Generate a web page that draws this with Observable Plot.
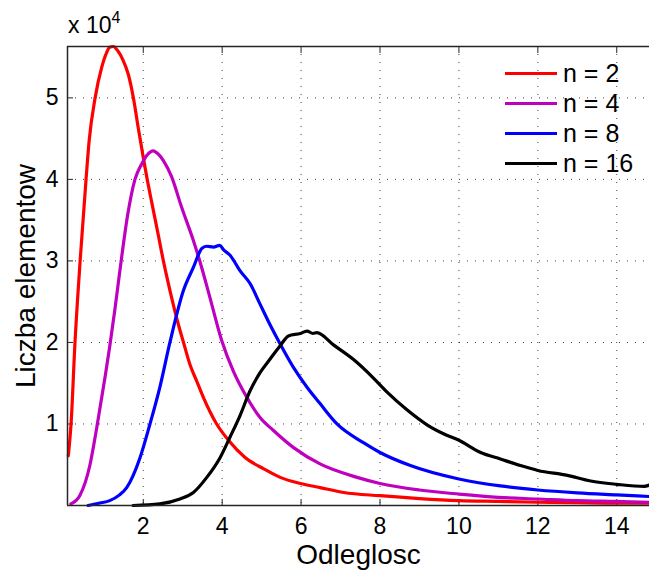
<!DOCTYPE html>
<html><head><meta charset="utf-8">
<script src="https://cdn.jsdelivr.net/npm/d3@7"></script>
<script src="https://cdn.jsdelivr.net/npm/@observablehq/plot@0.6"></script>
<style>
body{margin:0;background:#fff;}
#wrap{position:relative;width:649px;height:571px;font-family:"Liberation Sans",Arial,Helvetica,sans-serif;color:#000;overflow:hidden;}
#expo{position:absolute;left:68px;top:14px;font-size:23px;line-height:1;white-space:nowrap;}
#expo sup{font-size:16px;position:relative;top:-4px;vertical-align:top;}
#legend{position:absolute;left:505px;top:58px;}
.row{display:flex;align-items:center;height:30px;}
.sw{width:52px;height:3px;margin-right:6px;}
.lt{font-size:25px;line-height:1;white-space:nowrap;}
svg [aria-label="y-axis label"] text, svg [aria-label="x-axis label"] text{font-size:28px;}
</style>
</head><body>
<div id="wrap"><div id="chart"></div><div id="expo">x 10<sup>4</sup></div><div id="legend"></div></div>
<script>
const seriesNames = ["n = 2", "n = 4", "n = 8", "n = 16"];
const seriesColors = ["#ff0000", "#bf00bf", "#0000ff", "#000000"];

const distN2  = [0.1,0.17,0.27,0.40,0.55,0.63,0.78,0.95,1.05,1.15,1.24,1.35,1.49,1.62,1.75,1.87,2.0,2.1,2.21,2.38,2.51,2.68,2.89,3.02,3.19,3.36,3.52,3.86,4.16,4.58,5.05,5.47,5.98,6.48,7.08,8.0,9.0,10,11,12,13,14,14.83];
const countN2 = [6100,10000,20000,30000,40000,44800,50000,53800,55300,56200,56300,55800,54600,52900,50000,46400,42700,40000,37300,33200,30000,26300,22200,20000,17200,15200,13300,10000,8000,5900,4500,3450,2700,2200,1600,1200,850,600,500,400,350,300,300];

const distN4  = [0.165,0.39,0.65,0.82,1.04,1.15,1.28,1.44,1.6,1.79,1.96,2.1,2.25,2.4,2.51,2.72,2.97,3.27,3.48,3.69,3.99,4.28,4.62,4.96,5.3,5.81,6.48,7.42,8.0,9.0,10,11,12,13,14,14.83];
const countN4 = [200,1200,5000,9500,16000,19500,24000,30000,35500,40000,41900,43000,43500,43000,42300,40300,36600,32500,29200,25500,20200,16500,13300,10800,9200,7100,5100,3450,2700,1900,1400,1000,800,600,500,400];

const distN8  = [0.6,0.9,1.15,1.4,1.58,1.92,2.17,2.42,2.68,3.02,3.27,3.48,3.6,3.78,3.93,4.05,4.2,4.45,4.71,4.96,5.22,5.47,5.81,6.15,6.48,6.91,7.58,8.0,8.77,10,11.05,12,13,14,14.83];
const countN8 = [0,300,600,1300,2200,5900,10000,14500,20100,26400,29200,31500,31800,31700,31900,31300,30700,28800,27200,24700,22100,19800,16900,14500,12500,10000,7700,6500,4900,3250,2400,1900,1550,1300,1100];

const distN16  = [1.74,2.42,2.93,3.27,3.61,3.95,4.2,4.45,4.71,4.96,5.22,5.47,5.68,5.98,6.15,6.3,6.4,6.82,7.33,7.84,8.18,8.69,9.19,9.61,10,10.55,11.05,11.56,12,12.75,13.34,14,14.7,14.83];
const countN16 = [0,200,800,1600,3450,5900,8400,11000,14100,16300,18000,19600,20800,21100,21400,21100,21200,19700,17900,15600,13900,11700,9900,8800,8000,6500,5700,4900,4300,3700,3000,2600,2350,2500];

const xTicks = [2, 4, 6, 8, 10, 12, 14];
const yTicks = [10000, 20000, 30000, 40000, 50000];
const xDomain = [0.08, 14.83];
const yDomain = [0, 56300];
const xLabel = "Odleglosc";
const yLabel = "Liczba elementow";

const allX = [distN2, distN4, distN8, distN16];
const allY = [countN2, countN4, countN8, countN16];
const rows = [];
seriesNames.forEach((name, i) => {
  allX[i].forEach((x, j) => rows.push({series: name, x, y: allY[i][j]}));
});

const grid = {stroke: "#000", strokeOpacity: 0.75, strokeWidth: 1, strokeDasharray: "1,7"};
const axisLine = {stroke: "#262626", strokeWidth: 1.5};

const chart = Plot.plot({
  width: 649,
  height: 571,
  marginLeft: 67,
  marginRight: 0,
  marginTop: 46,
  marginBottom: 66,
  style: {fontFamily: "'Liberation Sans', Arial, Helvetica, sans-serif", fontSize: "23px", color: "#000", background: "#fff"},
  x: {domain: xDomain},
  y: {domain: yDomain},
  color: {domain: seriesNames, range: seriesColors},
  marks: [
    Plot.gridX(xTicks, grid),
    Plot.gridY(yTicks, grid),
    Plot.axisX(xTicks, {tickSize: -6, tickFormat: () => "", label: null, stroke: "#262626"}),
    Plot.axisX(xTicks, {anchor: "top", tickSize: -6, tickFormat: () => "", label: null, stroke: "#262626"}),
    Plot.axisY(yTicks, {tickSize: -6, tickFormat: () => "", label: null, stroke: "#262626"}),
    Plot.axisX(xTicks, {tickSize: 0, tickPadding: 12, tickFormat: d => String(d), label: xLabel, labelAnchor: "center", labelArrow: "none", labelOffset: 58}),
    Plot.axisY(yTicks, {tickSize: 0, tickPadding: 9, tickFormat: d => String(d / 10000), label: yLabel, labelAnchor: "center", labelArrow: "none", labelOffset: 52}),
    Plot.line(rows, {x: "x", y: "y", z: "series", stroke: "series", strokeWidth: 3.2, curve: "monotone-x", strokeLinejoin: "round"}),
    Plot.ruleX([xDomain[0]], axisLine),
    Plot.ruleY(yDomain, axisLine)
  ]
});
document.getElementById("chart").appendChild(chart);

const legend = document.getElementById("legend");
seriesNames.forEach((name, i) => {
  const r = document.createElement("div");
  r.className = "row";
  r.innerHTML = `<div class="sw" style="background:${seriesColors[i]}"></div><div class="lt">${name}</div>`;
  legend.appendChild(r);
});
</script>
</body></html>
